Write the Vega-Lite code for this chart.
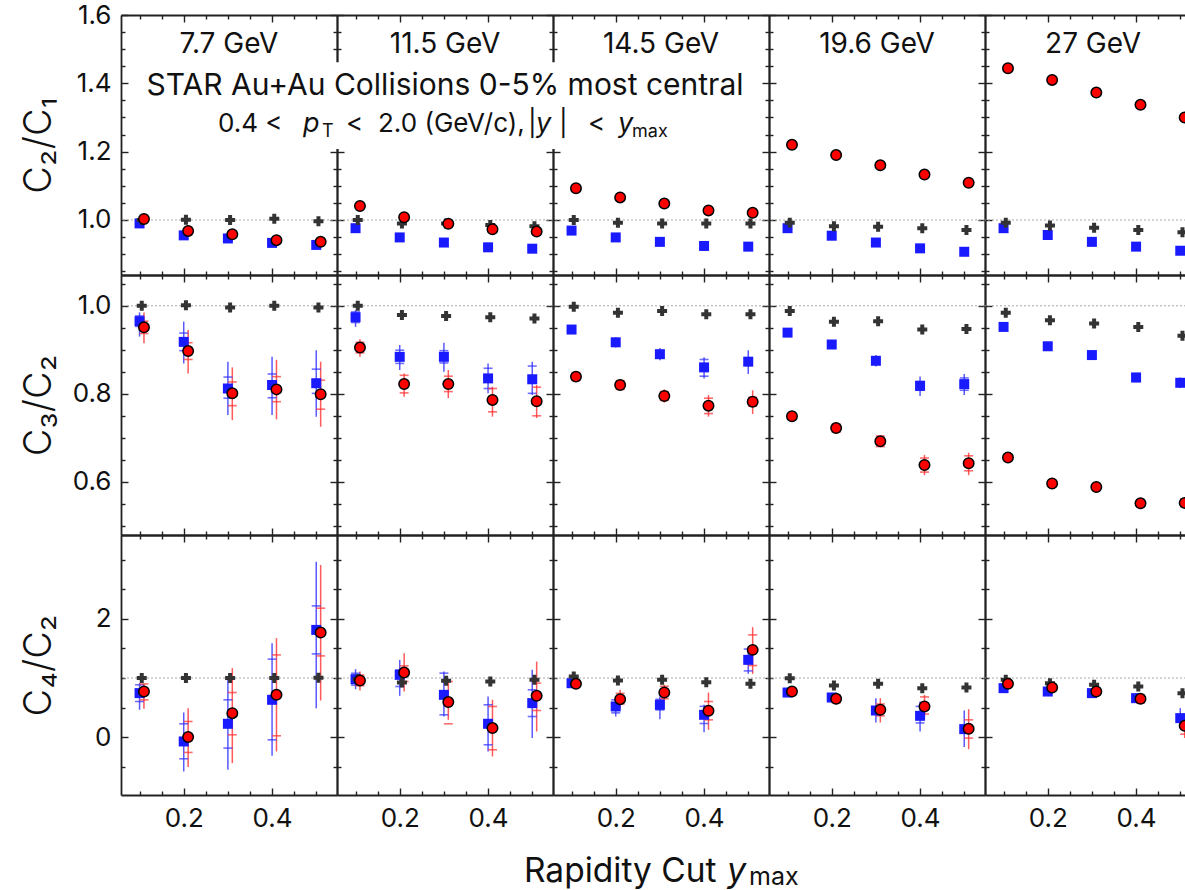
{
"$schema":"https://vega.github.io/schema/vega-lite/v6.json",
"background":"white",
"padding":{"left":20,"top":2,"right":0,"bottom":0},
"config":{"font":"Inter","view":{"stroke":null},
"axis":{"grid":false,"tickWidth":1.4,"tickColor":"#222222","domainColor":"#222222","domainWidth":1.8,"labelFont":"Inter","labelFontSize":26,"labelColor":"#111111","titleFont":"Inter","titleColor":"#111111"}},
"datasets":{"d":[
{"e":"7.7","q":"c21","s":"p","x":0.1,"y":0.990},{"e":"7.7","q":"c21","s":"p","x":0.2,"y":0.955},{"e":"7.7","q":"c21","s":"p","x":0.3,"y":0.946},{"e":"7.7","q":"c21","s":"p","x":0.4,"y":0.933},{"e":"7.7","q":"c21","s":"p","x":0.5,"y":0.927},
{"e":"7.7","q":"c21","s":"pbar","x":0.105,"y":1.000},{"e":"7.7","q":"c21","s":"pbar","x":0.205,"y":1.001},{"e":"7.7","q":"c21","s":"pbar","x":0.305,"y":1.000},{"e":"7.7","q":"c21","s":"pbar","x":0.405,"y":1.004},{"e":"7.7","q":"c21","s":"pbar","x":0.505,"y":0.996},
{"e":"7.7","q":"c21","s":"net","x":0.11,"y":1.003},{"e":"7.7","q":"c21","s":"net","x":0.21,"y":0.968},{"e":"7.7","q":"c21","s":"net","x":0.31,"y":0.958},{"e":"7.7","q":"c21","s":"net","x":0.41,"y":0.941},{"e":"7.7","q":"c21","s":"net","x":0.51,"y":0.936},
{"e":"11.5","q":"c21","s":"p","x":0.1,"y":0.976},{"e":"11.5","q":"c21","s":"p","x":0.2,"y":0.949},{"e":"11.5","q":"c21","s":"p","x":0.3,"y":0.934},{"e":"11.5","q":"c21","s":"p","x":0.4,"y":0.920},{"e":"11.5","q":"c21","s":"p","x":0.5,"y":0.916},
{"e":"11.5","q":"c21","s":"pbar","x":0.105,"y":1.000},{"e":"11.5","q":"c21","s":"pbar","x":0.205,"y":0.990},{"e":"11.5","q":"c21","s":"pbar","x":0.305,"y":0.990},{"e":"11.5","q":"c21","s":"pbar","x":0.405,"y":0.985},{"e":"11.5","q":"c21","s":"pbar","x":0.505,"y":0.982},
{"e":"11.5","q":"c21","s":"net","x":0.11,"y":1.041},{"e":"11.5","q":"c21","s":"net","x":0.21,"y":1.008},{"e":"11.5","q":"c21","s":"net","x":0.31,"y":0.989},{"e":"11.5","q":"c21","s":"net","x":0.41,"y":0.973},{"e":"11.5","q":"c21","s":"net","x":0.51,"y":0.966},
{"e":"14.5","q":"c21","s":"p","x":0.1,"y":0.969},{"e":"14.5","q":"c21","s":"p","x":0.2,"y":0.949},{"e":"14.5","q":"c21","s":"p","x":0.3,"y":0.936},{"e":"14.5","q":"c21","s":"p","x":0.4,"y":0.924},{"e":"14.5","q":"c21","s":"p","x":0.5,"y":0.922},
{"e":"14.5","q":"c21","s":"pbar","x":0.105,"y":1.000},{"e":"14.5","q":"c21","s":"pbar","x":0.205,"y":0.992},{"e":"14.5","q":"c21","s":"pbar","x":0.305,"y":0.990},{"e":"14.5","q":"c21","s":"pbar","x":0.405,"y":0.990},{"e":"14.5","q":"c21","s":"pbar","x":0.505,"y":0.990},
{"e":"14.5","q":"c21","s":"net","x":0.11,"y":1.093},{"e":"14.5","q":"c21","s":"net","x":0.21,"y":1.066},{"e":"14.5","q":"c21","s":"net","x":0.31,"y":1.048},{"e":"14.5","q":"c21","s":"net","x":0.41,"y":1.028},{"e":"14.5","q":"c21","s":"net","x":0.51,"y":1.021},
{"e":"19.6","q":"c21","s":"p","x":0.1,"y":0.976},{"e":"19.6","q":"c21","s":"p","x":0.2,"y":0.954},{"e":"19.6","q":"c21","s":"p","x":0.3,"y":0.934},{"e":"19.6","q":"c21","s":"p","x":0.4,"y":0.917},{"e":"19.6","q":"c21","s":"p","x":0.5,"y":0.907},
{"e":"19.6","q":"c21","s":"pbar","x":0.105,"y":0.992},{"e":"19.6","q":"c21","s":"pbar","x":0.205,"y":0.982},{"e":"19.6","q":"c21","s":"pbar","x":0.305,"y":0.980},{"e":"19.6","q":"c21","s":"pbar","x":0.405,"y":0.976},{"e":"19.6","q":"c21","s":"pbar","x":0.505,"y":0.971},
{"e":"19.6","q":"c21","s":"net","x":0.11,"y":1.220},{"e":"19.6","q":"c21","s":"net","x":0.21,"y":1.190},{"e":"19.6","q":"c21","s":"net","x":0.31,"y":1.160},{"e":"19.6","q":"c21","s":"net","x":0.41,"y":1.133},{"e":"19.6","q":"c21","s":"net","x":0.51,"y":1.109},
{"e":"27","q":"c21","s":"p","x":0.1,"y":0.976},{"e":"27","q":"c21","s":"p","x":0.2,"y":0.956},{"e":"27","q":"c21","s":"p","x":0.3,"y":0.936},{"e":"27","q":"c21","s":"p","x":0.4,"y":0.922},{"e":"27","q":"c21","s":"p","x":0.5,"y":0.910},
{"e":"27","q":"c21","s":"pbar","x":0.105,"y":0.992},{"e":"27","q":"c21","s":"pbar","x":0.205,"y":0.984},{"e":"27","q":"c21","s":"pbar","x":0.305,"y":0.977},{"e":"27","q":"c21","s":"pbar","x":0.405,"y":0.971},{"e":"27","q":"c21","s":"pbar","x":0.505,"y":0.964},
{"e":"27","q":"c21","s":"net","x":0.11,"y":1.444},{"e":"27","q":"c21","s":"net","x":0.21,"y":1.410},{"e":"27","q":"c21","s":"net","x":0.31,"y":1.373},{"e":"27","q":"c21","s":"net","x":0.41,"y":1.337},{"e":"27","q":"c21","s":"net","x":0.51,"y":1.300},

{"e":"7.7","q":"c32","s":"p","x":0.1,"y":0.965,"lo":0.930,"hi":0.985,"slo":0.953,"shi":0.977},{"e":"7.7","q":"c32","s":"p","x":0.2,"y":0.918,"lo":0.869,"hi":0.964,"slo":0.898,"shi":0.938},{"e":"7.7","q":"c32","s":"p","x":0.3,"y":0.812,"lo":0.752,"hi":0.873,"slo":0.790,"shi":0.838},{"e":"7.7","q":"c32","s":"p","x":0.4,"y":0.820,"lo":0.752,"hi":0.884,"slo":0.791,"shi":0.845},{"e":"7.7","q":"c32","s":"p","x":0.5,"y":0.824,"lo":0.748,"hi":0.899,"slo":0.801,"shi":0.856},
{"e":"7.7","q":"c32","s":"pbar","x":0.105,"y":1.000},{"e":"7.7","q":"c32","s":"pbar","x":0.205,"y":1.001},{"e":"7.7","q":"c32","s":"pbar","x":0.305,"y":0.996},{"e":"7.7","q":"c32","s":"pbar","x":0.405,"y":1.000},{"e":"7.7","q":"c32","s":"pbar","x":0.505,"y":0.996},
{"e":"7.7","q":"c32","s":"net","x":0.11,"y":0.951,"lo":0.915,"hi":0.985,"slo":0.937,"shi":0.965},{"e":"7.7","q":"c32","s":"net","x":0.21,"y":0.897,"lo":0.846,"hi":0.945,"slo":0.878,"shi":0.916},{"e":"7.7","q":"c32","s":"net","x":0.31,"y":0.801,"lo":0.740,"hi":0.860,"slo":0.773,"shi":0.827},{"e":"7.7","q":"c32","s":"net","x":0.41,"y":0.810,"lo":0.742,"hi":0.877,"slo":0.782,"shi":0.839},{"e":"7.7","q":"c32","s":"net","x":0.51,"y":0.799,"lo":0.725,"hi":0.873,"slo":0.765,"shi":0.831},
{"e":"11.5","q":"c32","s":"p","x":0.1,"y":0.974,"lo":0.952,"hi":0.990,"slo":0.962,"shi":0.986},{"e":"11.5","q":"c32","s":"p","x":0.2,"y":0.884,"lo":0.854,"hi":0.911,"slo":0.869,"shi":0.899},{"e":"11.5","q":"c32","s":"p","x":0.3,"y":0.884,"lo":0.850,"hi":0.916,"slo":0.870,"shi":0.898},{"e":"11.5","q":"c32","s":"p","x":0.4,"y":0.835,"lo":0.801,"hi":0.869,"slo":0.812,"shi":0.858},{"e":"11.5","q":"c32","s":"p","x":0.5,"y":0.833,"lo":0.797,"hi":0.873,"slo":0.801,"shi":0.863},
{"e":"11.5","q":"c32","s":"pbar","x":0.105,"y":1.000},{"e":"11.5","q":"c32","s":"pbar","x":0.205,"y":0.979},{"e":"11.5","q":"c32","s":"pbar","x":0.305,"y":0.977},{"e":"11.5","q":"c32","s":"pbar","x":0.405,"y":0.974},{"e":"11.5","q":"c32","s":"pbar","x":0.505,"y":0.971},
{"e":"11.5","q":"c32","s":"net","x":0.11,"y":0.905,"lo":0.884,"hi":0.924,"slo":0.893,"shi":0.917},{"e":"11.5","q":"c32","s":"net","x":0.21,"y":0.822,"lo":0.793,"hi":0.846,"slo":0.802,"shi":0.842},{"e":"11.5","q":"c32","s":"net","x":0.31,"y":0.822,"lo":0.790,"hi":0.854,"slo":0.805,"shi":0.840},{"e":"11.5","q":"c32","s":"net","x":0.41,"y":0.786,"lo":0.748,"hi":0.816,"slo":0.759,"shi":0.812},{"e":"11.5","q":"c32","s":"net","x":0.51,"y":0.783,"lo":0.745,"hi":0.820,"slo":0.750,"shi":0.815},
{"e":"14.5","q":"c32","s":"p","x":0.1,"y":0.946,"lo":0.938,"hi":0.954},{"e":"14.5","q":"c32","s":"p","x":0.2,"y":0.917,"lo":0.905,"hi":0.929},{"e":"14.5","q":"c32","s":"p","x":0.3,"y":0.890,"lo":0.876,"hi":0.904},{"e":"14.5","q":"c32","s":"p","x":0.4,"y":0.860,"lo":0.835,"hi":0.883,"slo":0.840,"shi":0.878},{"e":"14.5","q":"c32","s":"p","x":0.5,"y":0.873,"lo":0.845,"hi":0.899,"slo":0.865,"shi":0.881},
{"e":"14.5","q":"c32","s":"pbar","x":0.105,"y":0.998},{"e":"14.5","q":"c32","s":"pbar","x":0.205,"y":0.984},{"e":"14.5","q":"c32","s":"pbar","x":0.305,"y":0.988},{"e":"14.5","q":"c32","s":"pbar","x":0.405,"y":0.981},{"e":"14.5","q":"c32","s":"pbar","x":0.505,"y":0.981},
{"e":"14.5","q":"c32","s":"net","x":0.11,"y":0.839,"lo":0.831,"hi":0.847,"slo":0.830,"shi":0.848},{"e":"14.5","q":"c32","s":"net","x":0.21,"y":0.820,"lo":0.808,"hi":0.832,"slo":0.810,"shi":0.830},{"e":"14.5","q":"c32","s":"net","x":0.31,"y":0.795,"lo":0.780,"hi":0.810,"slo":0.785,"shi":0.805},{"e":"14.5","q":"c32","s":"net","x":0.41,"y":0.773,"lo":0.748,"hi":0.797,"slo":0.755,"shi":0.790},{"e":"14.5","q":"c32","s":"net","x":0.51,"y":0.782,"lo":0.754,"hi":0.808,"slo":0.772,"shi":0.792},
{"e":"19.6","q":"c32","s":"p","x":0.1,"y":0.939,"lo":0.932,"hi":0.946},{"e":"19.6","q":"c32","s":"p","x":0.2,"y":0.912,"lo":0.902,"hi":0.922},{"e":"19.6","q":"c32","s":"p","x":0.3,"y":0.875,"lo":0.862,"hi":0.888},{"e":"19.6","q":"c32","s":"p","x":0.4,"y":0.818,"lo":0.795,"hi":0.839,"slo":0.808,"shi":0.828},{"e":"19.6","q":"c32","s":"p","x":0.5,"y":0.822,"lo":0.797,"hi":0.845,"slo":0.808,"shi":0.836},
{"e":"19.6","q":"c32","s":"pbar","x":0.105,"y":0.988},{"e":"19.6","q":"c32","s":"pbar","x":0.205,"y":0.964},{"e":"19.6","q":"c32","s":"pbar","x":0.305,"y":0.965},{"e":"19.6","q":"c32","s":"pbar","x":0.405,"y":0.946},{"e":"19.6","q":"c32","s":"pbar","x":0.505,"y":0.947},
{"e":"19.6","q":"c32","s":"net","x":0.11,"y":0.749,"lo":0.742,"hi":0.756},{"e":"19.6","q":"c32","s":"net","x":0.21,"y":0.722,"lo":0.712,"hi":0.732,"slo":0.713,"shi":0.731},{"e":"19.6","q":"c32","s":"net","x":0.31,"y":0.692,"lo":0.680,"hi":0.704,"slo":0.680,"shi":0.704},{"e":"19.6","q":"c32","s":"net","x":0.41,"y":0.638,"lo":0.615,"hi":0.661,"slo":0.622,"shi":0.654},{"e":"19.6","q":"c32","s":"net","x":0.51,"y":0.642,"lo":0.615,"hi":0.666,"slo":0.625,"shi":0.659},
{"e":"27","q":"c32","s":"p","x":0.1,"y":0.952},{"e":"27","q":"c32","s":"p","x":0.2,"y":0.908},{"e":"27","q":"c32","s":"p","x":0.3,"y":0.888},{"e":"27","q":"c32","s":"p","x":0.4,"y":0.837,"lo":0.827,"hi":0.847,"slo":0.828,"shi":0.846},{"e":"27","q":"c32","s":"p","x":0.5,"y":0.825,"lo":0.813,"hi":0.837},
{"e":"27","q":"c32","s":"pbar","x":0.105,"y":0.984},{"e":"27","q":"c32","s":"pbar","x":0.205,"y":0.967},{"e":"27","q":"c32","s":"pbar","x":0.305,"y":0.960},{"e":"27","q":"c32","s":"pbar","x":0.405,"y":0.952},{"e":"27","q":"c32","s":"pbar","x":0.505,"y":0.932},
{"e":"27","q":"c32","s":"net","x":0.11,"y":0.655},{"e":"27","q":"c32","s":"net","x":0.21,"y":0.596},{"e":"27","q":"c32","s":"net","x":0.31,"y":0.588},{"e":"27","q":"c32","s":"net","x":0.41,"y":0.551,"lo":0.543,"hi":0.559,"slo":0.543,"shi":0.559},{"e":"27","q":"c32","s":"net","x":0.51,"y":0.552,"lo":0.543,"hi":0.561,"slo":0.543,"shi":0.561},

{"e":"7.7","q":"c42","s":"p","x":0.1,"y":0.744,"lo":0.462,"hi":0.913,"slo":0.602,"shi":0.884},{"e":"7.7","q":"c42","s":"p","x":0.2,"y":-0.074,"lo":-0.581,"hi":0.416,"slo":-0.367,"shi":0.225},{"e":"7.7","q":"c42","s":"p","x":0.3,"y":0.225,"lo":-0.553,"hi":1.025,"slo":-0.186,"shi":0.631},{"e":"7.7","q":"c42","s":"p","x":0.4,"y":0.631,"lo":-0.316,"hi":1.589,"slo":-0.046,"shi":1.319},{"e":"7.7","q":"c42","s":"p","x":0.5,"y":1.814,"lo":0.490,"hi":2.969,"slo":1.408,"shi":2.220},
{"e":"7.7","q":"c42","s":"pbar","x":0.105,"y":1.000},{"e":"7.7","q":"c42","s":"pbar","x":0.205,"y":1.000},{"e":"7.7","q":"c42","s":"pbar","x":0.305,"y":1.000},{"e":"7.7","q":"c42","s":"pbar","x":0.405,"y":1.000},{"e":"7.7","q":"c42","s":"pbar","x":0.505,"y":1.005},
{"e":"7.7","q":"c42","s":"net","x":0.11,"y":0.771,"lo":0.480,"hi":0.900,"slo":0.630,"shi":0.900},{"e":"7.7","q":"c42","s":"net","x":0.21,"y":0.000,"lo":-0.507,"hi":0.490,"slo":-0.260,"shi":0.264},{"e":"7.7","q":"c42","s":"net","x":0.31,"y":0.405,"lo":-0.440,"hi":1.167,"slo":0.039,"shi":0.754},{"e":"7.7","q":"c42","s":"net","x":0.41,"y":0.715,"lo":-0.243,"hi":1.674,"slo":0.022,"shi":1.391},{"e":"7.7","q":"c42","s":"net","x":0.51,"y":1.769,"lo":0.619,"hi":2.913,"slo":1.374,"shi":2.181},
{"e":"11.5","q":"c42","s":"p","x":0.1,"y":0.980,"lo":0.810,"hi":1.150,"slo":0.880,"shi":1.080},{"e":"11.5","q":"c42","s":"p","x":0.2,"y":1.053,"lo":0.698,"hi":1.307,"slo":0.856,"shi":1.138},{"e":"11.5","q":"c42","s":"p","x":0.3,"y":0.715,"lo":0.348,"hi":1.109,"slo":0.377,"shi":1.082},{"e":"11.5","q":"c42","s":"p","x":0.4,"y":0.225,"lo":-0.243,"hi":0.686,"slo":-0.130,"shi":0.546},{"e":"11.5","q":"c42","s":"p","x":0.5,"y":0.575,"lo":-0.017,"hi":1.138,"slo":0.348,"shi":0.800},
{"e":"11.5","q":"c42","s":"pbar","x":0.105,"y":0.980},{"e":"11.5","q":"c42","s":"pbar","x":0.205,"y":0.923},{"e":"11.5","q":"c42","s":"pbar","x":0.305,"y":0.952},{"e":"11.5","q":"c42","s":"pbar","x":0.405,"y":0.940},{"e":"11.5","q":"c42","s":"pbar","x":0.505,"y":0.969},
{"e":"11.5","q":"c42","s":"net","x":0.11,"y":0.957,"lo":0.788,"hi":1.109,"slo":0.870,"shi":1.050},{"e":"11.5","q":"c42","s":"net","x":0.21,"y":1.092,"lo":0.771,"hi":1.420,"slo":0.940,"shi":1.205},{"e":"11.5","q":"c42","s":"net","x":0.31,"y":0.592,"lo":0.292,"hi":0.969,"slo":0.225,"shi":0.940},{"e":"11.5","q":"c42","s":"net","x":0.41,"y":0.152,"lo":-0.328,"hi":0.631,"slo":-0.215,"shi":0.518},{"e":"11.5","q":"c42","s":"net","x":0.51,"y":0.698,"lo":0.095,"hi":1.278,"slo":0.450,"shi":0.913},
{"e":"14.5","q":"c42","s":"p","x":0.1,"y":0.912,"lo":0.830,"hi":0.990,"slo":0.860,"shi":0.960},{"e":"14.5","q":"c42","s":"p","x":0.2,"y":0.518,"lo":0.348,"hi":0.659,"slo":0.410,"shi":0.630},{"e":"14.5","q":"c42","s":"p","x":0.3,"y":0.546,"lo":0.304,"hi":0.686,"slo":0.460,"shi":0.640},{"e":"14.5","q":"c42","s":"p","x":0.4,"y":0.377,"lo":0.084,"hi":0.546,"slo":0.230,"shi":0.520},{"e":"14.5","q":"c42","s":"p","x":0.5,"y":1.307,"lo":1.070,"hi":1.532,"slo":1.120,"shi":1.490},
{"e":"14.5","q":"c42","s":"pbar","x":0.105,"y":1.025},{"e":"14.5","q":"c42","s":"pbar","x":0.205,"y":0.957},{"e":"14.5","q":"c42","s":"pbar","x":0.305,"y":0.969},{"e":"14.5","q":"c42","s":"pbar","x":0.405,"y":0.929},{"e":"14.5","q":"c42","s":"pbar","x":0.505,"y":0.901},
{"e":"14.5","q":"c42","s":"net","x":0.11,"y":0.901,"lo":0.830,"hi":0.970,"slo":0.860,"shi":0.940},{"e":"14.5","q":"c42","s":"net","x":0.21,"y":0.642,"lo":0.490,"hi":0.800,"slo":0.560,"shi":0.740},{"e":"14.5","q":"c42","s":"net","x":0.31,"y":0.754,"lo":0.602,"hi":0.884,"slo":0.650,"shi":0.860},{"e":"14.5","q":"c42","s":"net","x":0.41,"y":0.445,"lo":0.123,"hi":0.754,"slo":0.292,"shi":0.602},{"e":"14.5","q":"c42","s":"net","x":0.51,"y":1.476,"lo":1.070,"hi":1.860,"slo":1.211,"shi":1.729},
{"e":"19.6","q":"c42","s":"p","x":0.1,"y":0.754,"lo":0.700,"hi":0.810},{"e":"19.6","q":"c42","s":"p","x":0.2,"y":0.670,"lo":0.590,"hi":0.750},{"e":"19.6","q":"c42","s":"p","x":0.3,"y":0.450,"lo":0.247,"hi":0.659},{"e":"19.6","q":"c42","s":"p","x":0.4,"y":0.360,"lo":0.095,"hi":0.602,"slo":0.240,"shi":0.520},{"e":"19.6","q":"c42","s":"p","x":0.5,"y":0.135,"lo":-0.169,"hi":0.450},
{"e":"19.6","q":"c42","s":"pbar","x":0.105,"y":0.997},{"e":"19.6","q":"c42","s":"pbar","x":0.205,"y":0.873},{"e":"19.6","q":"c42","s":"pbar","x":0.305,"y":0.901},{"e":"19.6","q":"c42","s":"pbar","x":0.405,"y":0.828},{"e":"19.6","q":"c42","s":"pbar","x":0.505,"y":0.839},
{"e":"19.6","q":"c42","s":"net","x":0.11,"y":0.771,"lo":0.720,"hi":0.820,"slo":0.730,"shi":0.810},{"e":"19.6","q":"c42","s":"net","x":0.21,"y":0.647,"lo":0.550,"hi":0.740,"slo":0.580,"shi":0.710},{"e":"19.6","q":"c42","s":"net","x":0.31,"y":0.462,"lo":0.247,"hi":0.659,"slo":0.360,"shi":0.560},{"e":"19.6","q":"c42","s":"net","x":0.41,"y":0.518,"lo":0.348,"hi":0.715,"slo":0.390,"shi":0.680},{"e":"19.6","q":"c42","s":"net","x":0.51,"y":0.140,"lo":-0.203,"hi":0.473,"slo":-0.017,"shi":0.292},
{"e":"27","q":"c42","s":"p","x":0.1,"y":0.828,"lo":0.780,"hi":0.880},{"e":"27","q":"c42","s":"p","x":0.2,"y":0.771,"lo":0.720,"hi":0.820},{"e":"27","q":"c42","s":"p","x":0.3,"y":0.744,"lo":0.660,"hi":0.830},{"e":"27","q":"c42","s":"p","x":0.4,"y":0.659,"lo":0.580,"hi":0.740},{"e":"27","q":"c42","s":"p","x":0.5,"y":0.321,"lo":0.152,"hi":0.490},
{"e":"27","q":"c42","s":"pbar","x":0.105,"y":0.969},{"e":"27","q":"c42","s":"pbar","x":0.205,"y":0.912},{"e":"27","q":"c42","s":"pbar","x":0.305,"y":0.884},{"e":"27","q":"c42","s":"pbar","x":0.405,"y":0.856},{"e":"27","q":"c42","s":"pbar","x":0.505,"y":0.744},
{"e":"27","q":"c42","s":"net","x":0.11,"y":0.901,"lo":0.860,"hi":0.940,"slo":0.870,"shi":0.930},{"e":"27","q":"c42","s":"net","x":0.21,"y":0.839,"lo":0.790,"hi":0.890,"slo":0.800,"shi":0.880},{"e":"27","q":"c42","s":"net","x":0.31,"y":0.771,"lo":0.700,"hi":0.840,"slo":0.720,"shi":0.820},{"e":"27","q":"c42","s":"net","x":0.41,"y":0.647,"lo":0.560,"hi":0.740,"slo":0.580,"shi":0.710},{"e":"27","q":"c42","s":"net","x":0.51,"y":0.191,"lo":-0.017,"hi":0.348,"slo":0.050,"shi":0.320}
]},
"columns":5,"spacing":0,"bounds":"flush",
"concat":[
{"width":216,"height":260,"data":{"name":"d"},"transform":[{"filter":"datum.q=='c21' && datum.e=='7.7'"}],"resolve":{"axis":{"x":"independent","y":"independent"}},"layer":[
{"data":{"values":[{"q":"c21","e":"7.7"}]},"mark":{"type":"rule","color":"#a8a8a8","strokeDash":[2,2],"strokeWidth":1},"encoding":{"y":{"datum":1,"type":"quantitative","scale":{"domain":[0.839,1.6],"nice":false,"zero":false},"axis":null}}},
{"mark":{"type":"rule","strokeWidth":1.5,"opacity":0.8},"encoding":{"x":{"field":"x","type":"quantitative","scale":{"domain":[0.058,0.547],"nice":false,"zero":false},"axis":{"orient":"bottom","values":[0.2,0.4],"tickSize":-7,"domain":true,"labels":false,"title":null}},"y":{"field":"lo","type":"quantitative","scale":{"domain":[0.839,1.6],"nice":false,"zero":false},"axis":{"orient":"left","values":[1,1.2,1.4,1.6],"tickSize":-7,"domain":true,"labels":true,"format":".1f","labelPadding":17,"title":"C₂/C₁","titleFontSize":38,"titleFontWeight":300,"titlePadding":15,"minExtent":48,"maxExtent":48}},"y2":{"field":"hi"},"color":{"field":"s","type":"nominal","scale":{"domain":["p","pbar","net"],"range":["#3030ff","#444444","#ff3030"]},"legend":null}}},
{"transform":[{"fold":["slo","shi"],"as":["k","v"]}],"mark":{"type":"tick","orient":"horizontal","size":9,"thickness":1.6},"encoding":{"x":{"field":"x","type":"quantitative","scale":{"domain":[0.058,0.547],"nice":false,"zero":false},"axis":{"orient":"bottom","values":[0.1,0.15,0.25,0.3,0.35,0.45,0.5],"tickSize":-4,"domain":false,"labels":false,"title":null}},"y":{"field":"v","type":"quantitative","scale":{"domain":[0.839,1.6],"nice":false,"zero":false},"axis":{"orient":"left","values":[0.85,0.9,0.95,1.05,1.1,1.15,1.25,1.3,1.35,1.45,1.5,1.55],"tickSize":-4,"domain":false,"labels":false,"title":null}},"color":{"field":"s","type":"nominal","scale":{"domain":["p","pbar","net"],"range":["#3030ff","#444444","#ff3030"]},"legend":null}}},
{"transform":[{"filter":"datum.s=='p'"}],"mark":{"type":"point","shape":"square","filled":true,"color":"#1a1aff","size":100,"opacity":1},"encoding":{"x":{"field":"x","type":"quantitative","scale":{"domain":[0.058,0.547],"nice":false,"zero":false},"axis":{"orient":"top","values":[0.2,0.4],"tickSize":-7,"domain":true,"labels":false,"title":null}},"y":{"field":"y","type":"quantitative","scale":{"domain":[0.839,1.6],"nice":false,"zero":false},"axis":{"orient":"right","values":[1,1.2,1.4,1.6],"tickSize":-7,"domain":true,"labels":false,"title":null}}}},
{"transform":[{"filter":"datum.s=='pbar'"}],"mark":{"type":"point","shape":"cross","filled":true,"color":"#333333","size":100,"opacity":1},"encoding":{"x":{"field":"x","type":"quantitative","scale":{"domain":[0.058,0.547],"nice":false,"zero":false},"axis":{"orient":"top","values":[0.1,0.15,0.25,0.3,0.35,0.45,0.5],"tickSize":-4,"domain":false,"labels":false,"title":null}},"y":{"field":"y","type":"quantitative","scale":{"domain":[0.839,1.6],"nice":false,"zero":false},"axis":{"orient":"right","values":[0.85,0.9,0.95,1.05,1.1,1.15,1.25,1.3,1.35,1.45,1.5,1.55],"tickSize":-4,"domain":false,"labels":false,"title":null}}}},
{"transform":[{"filter":"datum.s=='net'"}],"mark":{"type":"point","shape":"circle","filled":true,"fill":"#ff0000","stroke":"#000000","strokeWidth":1.5,"size":110,"opacity":1},"encoding":{"x":{"field":"x","type":"quantitative","scale":{"domain":[0.058,0.547],"nice":false,"zero":false},"axis":null},"y":{"field":"y","type":"quantitative","scale":{"domain":[0.839,1.6],"nice":false,"zero":false},"axis":null}}},
{"data":{"values":[{"q":"c21","e":"7.7"}]},"mark":{"type":"text","text":"7.7 GeV","fontSize":28,"align":"center","baseline":"alphabetic","color":"#111111"},"encoding":{"x":{"datum":0.3025,"type":"quantitative","scale":{"domain":[0.058,0.547],"nice":false,"zero":false},"axis":null},"y":{"datum":1.489,"type":"quantitative","scale":{"domain":[0.839,1.6],"nice":false,"zero":false},"axis":null}}}
]},
{"width":216,"height":260,"data":{"name":"d"},"transform":[{"filter":"datum.q=='c21' && datum.e=='11.5'"}],"resolve":{"axis":{"x":"independent","y":"independent"}},"layer":[
{"data":{"values":[{"q":"c21","e":"11.5"}]},"mark":{"type":"rule","color":"#a8a8a8","strokeDash":[2,2],"strokeWidth":1},"encoding":{"y":{"datum":1,"type":"quantitative","scale":{"domain":[0.839,1.6],"nice":false,"zero":false},"axis":null}}},
{"mark":{"type":"rule","strokeWidth":1.5,"opacity":0.8},"encoding":{"x":{"field":"x","type":"quantitative","scale":{"domain":[0.058,0.547],"nice":false,"zero":false},"axis":{"orient":"bottom","values":[0.2,0.4],"tickSize":-7,"domain":true,"labels":false,"title":null}},"y":{"field":"lo","type":"quantitative","scale":{"domain":[0.839,1.6],"nice":false,"zero":false},"axis":{"orient":"left","values":[1,1.2,1.4,1.6],"tickSize":-7,"domain":true,"labels":false,"title":null}},"y2":{"field":"hi"},"color":{"field":"s","type":"nominal","scale":{"domain":["p","pbar","net"],"range":["#3030ff","#444444","#ff3030"]},"legend":null}}},
{"transform":[{"fold":["slo","shi"],"as":["k","v"]}],"mark":{"type":"tick","orient":"horizontal","size":9,"thickness":1.6},"encoding":{"x":{"field":"x","type":"quantitative","scale":{"domain":[0.058,0.547],"nice":false,"zero":false},"axis":{"orient":"bottom","values":[0.1,0.15,0.25,0.3,0.35,0.45,0.5],"tickSize":-4,"domain":false,"labels":false,"title":null}},"y":{"field":"v","type":"quantitative","scale":{"domain":[0.839,1.6],"nice":false,"zero":false},"axis":{"orient":"left","values":[0.85,0.9,0.95,1.05,1.1,1.15,1.25,1.3,1.35,1.45,1.5,1.55],"tickSize":-4,"domain":false,"labels":false,"title":null}},"color":{"field":"s","type":"nominal","scale":{"domain":["p","pbar","net"],"range":["#3030ff","#444444","#ff3030"]},"legend":null}}},
{"transform":[{"filter":"datum.s=='p'"}],"mark":{"type":"point","shape":"square","filled":true,"color":"#1a1aff","size":100,"opacity":1},"encoding":{"x":{"field":"x","type":"quantitative","scale":{"domain":[0.058,0.547],"nice":false,"zero":false},"axis":{"orient":"top","values":[0.2,0.4],"tickSize":-7,"domain":true,"labels":false,"title":null}},"y":{"field":"y","type":"quantitative","scale":{"domain":[0.839,1.6],"nice":false,"zero":false},"axis":{"orient":"right","values":[1,1.2,1.4,1.6],"tickSize":-7,"domain":true,"labels":false,"title":null}}}},
{"transform":[{"filter":"datum.s=='pbar'"}],"mark":{"type":"point","shape":"cross","filled":true,"color":"#333333","size":100,"opacity":1},"encoding":{"x":{"field":"x","type":"quantitative","scale":{"domain":[0.058,0.547],"nice":false,"zero":false},"axis":{"orient":"top","values":[0.1,0.15,0.25,0.3,0.35,0.45,0.5],"tickSize":-4,"domain":false,"labels":false,"title":null}},"y":{"field":"y","type":"quantitative","scale":{"domain":[0.839,1.6],"nice":false,"zero":false},"axis":{"orient":"right","values":[0.85,0.9,0.95,1.05,1.1,1.15,1.25,1.3,1.35,1.45,1.5,1.55],"tickSize":-4,"domain":false,"labels":false,"title":null}}}},
{"transform":[{"filter":"datum.s=='net'"}],"mark":{"type":"point","shape":"circle","filled":true,"fill":"#ff0000","stroke":"#000000","strokeWidth":1.5,"size":110,"opacity":1},"encoding":{"x":{"field":"x","type":"quantitative","scale":{"domain":[0.058,0.547],"nice":false,"zero":false},"axis":null},"y":{"field":"y","type":"quantitative","scale":{"domain":[0.839,1.6],"nice":false,"zero":false},"axis":null}}},
{"data":{"values":[{"q":"c21","e":"11.5"}]},"mark":{"type":"text","text":"11.5 GeV","fontSize":28,"align":"center","baseline":"alphabetic","color":"#111111"},"encoding":{"x":{"datum":0.3025,"type":"quantitative","scale":{"domain":[0.058,0.547],"nice":false,"zero":false},"axis":null},"y":{"datum":1.489,"type":"quantitative","scale":{"domain":[0.839,1.6],"nice":false,"zero":false},"axis":null}}}
]},
{"width":216,"height":260,"data":{"name":"d"},"transform":[{"filter":"datum.q=='c21' && datum.e=='14.5'"}],"resolve":{"axis":{"x":"independent","y":"independent"}},"layer":[
{"data":{"values":[{"q":"c21","e":"14.5"}]},"mark":{"type":"rule","color":"#a8a8a8","strokeDash":[2,2],"strokeWidth":1},"encoding":{"y":{"datum":1,"type":"quantitative","scale":{"domain":[0.839,1.6],"nice":false,"zero":false},"axis":null}}},
{"mark":{"type":"rule","strokeWidth":1.5,"opacity":0.8},"encoding":{"x":{"field":"x","type":"quantitative","scale":{"domain":[0.058,0.547],"nice":false,"zero":false},"axis":{"orient":"bottom","values":[0.2,0.4],"tickSize":-7,"domain":true,"labels":false,"title":null}},"y":{"field":"lo","type":"quantitative","scale":{"domain":[0.839,1.6],"nice":false,"zero":false},"axis":{"orient":"left","values":[1,1.2,1.4,1.6],"tickSize":-7,"domain":true,"labels":false,"title":null}},"y2":{"field":"hi"},"color":{"field":"s","type":"nominal","scale":{"domain":["p","pbar","net"],"range":["#3030ff","#444444","#ff3030"]},"legend":null}}},
{"transform":[{"fold":["slo","shi"],"as":["k","v"]}],"mark":{"type":"tick","orient":"horizontal","size":9,"thickness":1.6},"encoding":{"x":{"field":"x","type":"quantitative","scale":{"domain":[0.058,0.547],"nice":false,"zero":false},"axis":{"orient":"bottom","values":[0.1,0.15,0.25,0.3,0.35,0.45,0.5],"tickSize":-4,"domain":false,"labels":false,"title":null}},"y":{"field":"v","type":"quantitative","scale":{"domain":[0.839,1.6],"nice":false,"zero":false},"axis":{"orient":"left","values":[0.85,0.9,0.95,1.05,1.1,1.15,1.25,1.3,1.35,1.45,1.5,1.55],"tickSize":-4,"domain":false,"labels":false,"title":null}},"color":{"field":"s","type":"nominal","scale":{"domain":["p","pbar","net"],"range":["#3030ff","#444444","#ff3030"]},"legend":null}}},
{"transform":[{"filter":"datum.s=='p'"}],"mark":{"type":"point","shape":"square","filled":true,"color":"#1a1aff","size":100,"opacity":1},"encoding":{"x":{"field":"x","type":"quantitative","scale":{"domain":[0.058,0.547],"nice":false,"zero":false},"axis":{"orient":"top","values":[0.2,0.4],"tickSize":-7,"domain":true,"labels":false,"title":null}},"y":{"field":"y","type":"quantitative","scale":{"domain":[0.839,1.6],"nice":false,"zero":false},"axis":{"orient":"right","values":[1,1.2,1.4,1.6],"tickSize":-7,"domain":true,"labels":false,"title":null}}}},
{"transform":[{"filter":"datum.s=='pbar'"}],"mark":{"type":"point","shape":"cross","filled":true,"color":"#333333","size":100,"opacity":1},"encoding":{"x":{"field":"x","type":"quantitative","scale":{"domain":[0.058,0.547],"nice":false,"zero":false},"axis":{"orient":"top","values":[0.1,0.15,0.25,0.3,0.35,0.45,0.5],"tickSize":-4,"domain":false,"labels":false,"title":null}},"y":{"field":"y","type":"quantitative","scale":{"domain":[0.839,1.6],"nice":false,"zero":false},"axis":{"orient":"right","values":[0.85,0.9,0.95,1.05,1.1,1.15,1.25,1.3,1.35,1.45,1.5,1.55],"tickSize":-4,"domain":false,"labels":false,"title":null}}}},
{"transform":[{"filter":"datum.s=='net'"}],"mark":{"type":"point","shape":"circle","filled":true,"fill":"#ff0000","stroke":"#000000","strokeWidth":1.5,"size":110,"opacity":1},"encoding":{"x":{"field":"x","type":"quantitative","scale":{"domain":[0.058,0.547],"nice":false,"zero":false},"axis":null},"y":{"field":"y","type":"quantitative","scale":{"domain":[0.839,1.6],"nice":false,"zero":false},"axis":null}}},
{"data":{"values":[{"q":"c21","e":"14.5"}]},"mark":{"type":"text","text":"14.5 GeV","fontSize":28,"align":"center","baseline":"alphabetic","color":"#111111"},"encoding":{"x":{"datum":0.3025,"type":"quantitative","scale":{"domain":[0.058,0.547],"nice":false,"zero":false},"axis":null},"y":{"datum":1.489,"type":"quantitative","scale":{"domain":[0.839,1.6],"nice":false,"zero":false},"axis":null}}},
{"data":{"values":[{"q":"c21","e":"14.5"}]},"mark":{"type":"rect","fill":"#ffffff"},"encoding":{"x":{"datum":-0.882,"type":"quantitative","scale":{"domain":[0.058,0.547],"nice":false,"zero":false},"axis":null},"x2":{"datum":0.522},"y":{"datum":1.462,"type":"quantitative","scale":{"domain":[0.839,1.6],"nice":false,"zero":false},"axis":null},"y2":{"datum":1.208}}},
{"data":{"values":[{"q":"c21","e":"14.5"}]},"mark":{"type":"text","text":"STAR Au+Au Collisions 0-5% most central","fontSize":30,"align":"center","baseline":"alphabetic","color":"#111111"},"encoding":{"x":{"datum":-0.1865,"type":"quantitative","scale":{"domain":[0.058,0.547],"nice":false,"zero":false},"axis":null},"y":{"datum":1.366,"type":"quantitative","scale":{"domain":[0.839,1.6],"nice":false,"zero":false},"axis":null}}},
{"data":{"values":[{"q":"c21","e":"14.5"}]},"mark":{"type":"text","text":"0.4 <","fontSize":26,"align":"left","baseline":"alphabetic","color":"#111111"},"encoding":{"x":{"datum":-0.7004,"type":"quantitative","scale":{"domain":[0.058,0.547],"nice":false,"zero":false},"axis":null},"y":{"datum":1.258,"type":"quantitative","scale":{"domain":[0.839,1.6],"nice":false,"zero":false},"axis":null}}},
{"data":{"values":[{"q":"c21","e":"14.5"}]},"mark":{"type":"text","text":"p","fontSize":27,"fontStyle":"italic","align":"left","baseline":"alphabetic","color":"#111111"},"encoding":{"x":{"datum":-0.508,"type":"quantitative","scale":{"domain":[0.058,0.547],"nice":false,"zero":false},"axis":null},"y":{"datum":1.258,"type":"quantitative","scale":{"domain":[0.839,1.6],"nice":false,"zero":false},"axis":null}}},
{"data":{"values":[{"q":"c21","e":"14.5"}]},"mark":{"type":"text","text":"T","fontSize":18,"align":"left","baseline":"alphabetic","color":"#111111"},"encoding":{"x":{"datum":-0.465,"type":"quantitative","scale":{"domain":[0.058,0.547],"nice":false,"zero":false},"axis":null},"y":{"datum":1.243,"type":"quantitative","scale":{"domain":[0.839,1.6],"nice":false,"zero":false},"axis":null}}},
{"data":{"values":[{"q":"c21","e":"14.5"}]},"mark":{"type":"text","text":"<","fontSize":26,"align":"left","baseline":"alphabetic","color":"#111111"},"encoding":{"x":{"datum":-0.4106,"type":"quantitative","scale":{"domain":[0.058,0.547],"nice":false,"zero":false},"axis":null},"y":{"datum":1.258,"type":"quantitative","scale":{"domain":[0.839,1.6],"nice":false,"zero":false},"axis":null}}},
{"data":{"values":[{"q":"c21","e":"14.5"}]},"mark":{"type":"text","text":"2.0 (GeV/c),","fontSize":26,"align":"left","baseline":"alphabetic","color":"#111111"},"encoding":{"x":{"datum":-0.3382,"type":"quantitative","scale":{"domain":[0.058,0.547],"nice":false,"zero":false},"axis":null},"y":{"datum":1.258,"type":"quantitative","scale":{"domain":[0.839,1.6],"nice":false,"zero":false},"axis":null}}},
{"data":{"values":[{"q":"c21","e":"14.5"}]},"mark":{"type":"text","text":"|","fontSize":26,"align":"left","baseline":"alphabetic","color":"#111111"},"encoding":{"x":{"datum":0.0014,"type":"quantitative","scale":{"domain":[0.058,0.547],"nice":false,"zero":false},"axis":null},"y":{"datum":1.258,"type":"quantitative","scale":{"domain":[0.839,1.6],"nice":false,"zero":false},"axis":null}}},
{"data":{"values":[{"q":"c21","e":"14.5"}]},"mark":{"type":"text","text":"y","fontSize":27,"fontStyle":"italic","align":"left","baseline":"alphabetic","color":"#111111"},"encoding":{"x":{"datum":0.0195,"type":"quantitative","scale":{"domain":[0.058,0.547],"nice":false,"zero":false},"axis":null},"y":{"datum":1.258,"type":"quantitative","scale":{"domain":[0.839,1.6],"nice":false,"zero":false},"axis":null}}},
{"data":{"values":[{"q":"c21","e":"14.5"}]},"mark":{"type":"text","text":"|","fontSize":26,"align":"left","baseline":"alphabetic","color":"#111111"},"encoding":{"x":{"datum":0.0716,"type":"quantitative","scale":{"domain":[0.058,0.547],"nice":false,"zero":false},"axis":null},"y":{"datum":1.258,"type":"quantitative","scale":{"domain":[0.839,1.6],"nice":false,"zero":false},"axis":null}}},
{"data":{"values":[{"q":"c21","e":"14.5"}]},"mark":{"type":"text","text":"<","fontSize":26,"align":"left","baseline":"alphabetic","color":"#111111"},"encoding":{"x":{"datum":0.1372,"type":"quantitative","scale":{"domain":[0.058,0.547],"nice":false,"zero":false},"axis":null},"y":{"datum":1.258,"type":"quantitative","scale":{"domain":[0.839,1.6],"nice":false,"zero":false},"axis":null}}},
{"data":{"values":[{"q":"c21","e":"14.5"}]},"mark":{"type":"text","text":"y","fontSize":27,"fontStyle":"italic","align":"left","baseline":"alphabetic","color":"#111111"},"encoding":{"x":{"datum":0.2052,"type":"quantitative","scale":{"domain":[0.058,0.547],"nice":false,"zero":false},"axis":null},"y":{"datum":1.258,"type":"quantitative","scale":{"domain":[0.839,1.6],"nice":false,"zero":false},"axis":null}}},
{"data":{"values":[{"q":"c21","e":"14.5"}]},"mark":{"type":"text","text":"max","fontSize":18,"align":"left","baseline":"alphabetic","color":"#111111"},"encoding":{"x":{"datum":0.2369,"type":"quantitative","scale":{"domain":[0.058,0.547],"nice":false,"zero":false},"axis":null},"y":{"datum":1.243,"type":"quantitative","scale":{"domain":[0.839,1.6],"nice":false,"zero":false},"axis":null}}}
]},
{"width":216,"height":260,"data":{"name":"d"},"transform":[{"filter":"datum.q=='c21' && datum.e=='19.6'"}],"resolve":{"axis":{"x":"independent","y":"independent"}},"layer":[
{"data":{"values":[{"q":"c21","e":"19.6"}]},"mark":{"type":"rule","color":"#a8a8a8","strokeDash":[2,2],"strokeWidth":1},"encoding":{"y":{"datum":1,"type":"quantitative","scale":{"domain":[0.839,1.6],"nice":false,"zero":false},"axis":null}}},
{"mark":{"type":"rule","strokeWidth":1.5,"opacity":0.8},"encoding":{"x":{"field":"x","type":"quantitative","scale":{"domain":[0.058,0.547],"nice":false,"zero":false},"axis":{"orient":"bottom","values":[0.2,0.4],"tickSize":-7,"domain":true,"labels":false,"title":null}},"y":{"field":"lo","type":"quantitative","scale":{"domain":[0.839,1.6],"nice":false,"zero":false},"axis":{"orient":"left","values":[1,1.2,1.4,1.6],"tickSize":-7,"domain":true,"labels":false,"title":null}},"y2":{"field":"hi"},"color":{"field":"s","type":"nominal","scale":{"domain":["p","pbar","net"],"range":["#3030ff","#444444","#ff3030"]},"legend":null}}},
{"transform":[{"fold":["slo","shi"],"as":["k","v"]}],"mark":{"type":"tick","orient":"horizontal","size":9,"thickness":1.6},"encoding":{"x":{"field":"x","type":"quantitative","scale":{"domain":[0.058,0.547],"nice":false,"zero":false},"axis":{"orient":"bottom","values":[0.1,0.15,0.25,0.3,0.35,0.45,0.5],"tickSize":-4,"domain":false,"labels":false,"title":null}},"y":{"field":"v","type":"quantitative","scale":{"domain":[0.839,1.6],"nice":false,"zero":false},"axis":{"orient":"left","values":[0.85,0.9,0.95,1.05,1.1,1.15,1.25,1.3,1.35,1.45,1.5,1.55],"tickSize":-4,"domain":false,"labels":false,"title":null}},"color":{"field":"s","type":"nominal","scale":{"domain":["p","pbar","net"],"range":["#3030ff","#444444","#ff3030"]},"legend":null}}},
{"transform":[{"filter":"datum.s=='p'"}],"mark":{"type":"point","shape":"square","filled":true,"color":"#1a1aff","size":100,"opacity":1},"encoding":{"x":{"field":"x","type":"quantitative","scale":{"domain":[0.058,0.547],"nice":false,"zero":false},"axis":{"orient":"top","values":[0.2,0.4],"tickSize":-7,"domain":true,"labels":false,"title":null}},"y":{"field":"y","type":"quantitative","scale":{"domain":[0.839,1.6],"nice":false,"zero":false},"axis":{"orient":"right","values":[1,1.2,1.4,1.6],"tickSize":-7,"domain":true,"labels":false,"title":null}}}},
{"transform":[{"filter":"datum.s=='pbar'"}],"mark":{"type":"point","shape":"cross","filled":true,"color":"#333333","size":100,"opacity":1},"encoding":{"x":{"field":"x","type":"quantitative","scale":{"domain":[0.058,0.547],"nice":false,"zero":false},"axis":{"orient":"top","values":[0.1,0.15,0.25,0.3,0.35,0.45,0.5],"tickSize":-4,"domain":false,"labels":false,"title":null}},"y":{"field":"y","type":"quantitative","scale":{"domain":[0.839,1.6],"nice":false,"zero":false},"axis":{"orient":"right","values":[0.85,0.9,0.95,1.05,1.1,1.15,1.25,1.3,1.35,1.45,1.5,1.55],"tickSize":-4,"domain":false,"labels":false,"title":null}}}},
{"transform":[{"filter":"datum.s=='net'"}],"mark":{"type":"point","shape":"circle","filled":true,"fill":"#ff0000","stroke":"#000000","strokeWidth":1.5,"size":110,"opacity":1},"encoding":{"x":{"field":"x","type":"quantitative","scale":{"domain":[0.058,0.547],"nice":false,"zero":false},"axis":null},"y":{"field":"y","type":"quantitative","scale":{"domain":[0.839,1.6],"nice":false,"zero":false},"axis":null}}},
{"data":{"values":[{"q":"c21","e":"19.6"}]},"mark":{"type":"text","text":"19.6 GeV","fontSize":28,"align":"center","baseline":"alphabetic","color":"#111111"},"encoding":{"x":{"datum":0.3025,"type":"quantitative","scale":{"domain":[0.058,0.547],"nice":false,"zero":false},"axis":null},"y":{"datum":1.489,"type":"quantitative","scale":{"domain":[0.839,1.6],"nice":false,"zero":false},"axis":null}}}
]},
{"width":201,"height":260,"data":{"name":"d"},"transform":[{"filter":"datum.q=='c21' && datum.e=='27'"}],"resolve":{"axis":{"x":"independent","y":"independent"}},"layer":[
{"data":{"values":[{"q":"c21","e":"27"}]},"mark":{"type":"rule","color":"#a8a8a8","strokeDash":[2,2],"strokeWidth":1},"encoding":{"y":{"datum":1,"type":"quantitative","scale":{"domain":[0.839,1.6],"nice":false,"zero":false},"axis":null}}},
{"mark":{"type":"rule","strokeWidth":1.5,"opacity":0.8,"clip":true},"encoding":{"x":{"field":"x","type":"quantitative","scale":{"domain":[0.058,0.513],"nice":false,"zero":false},"axis":{"orient":"bottom","values":[0.2,0.4],"tickSize":-7,"domain":true,"labels":false,"title":null}},"y":{"field":"lo","type":"quantitative","scale":{"domain":[0.839,1.6],"nice":false,"zero":false},"axis":{"orient":"left","values":[1,1.2,1.4,1.6],"tickSize":-7,"domain":true,"labels":false,"title":null}},"y2":{"field":"hi"},"color":{"field":"s","type":"nominal","scale":{"domain":["p","pbar","net"],"range":["#3030ff","#444444","#ff3030"]},"legend":null}}},
{"transform":[{"fold":["slo","shi"],"as":["k","v"]}],"mark":{"type":"tick","orient":"horizontal","size":9,"thickness":1.6,"clip":true},"encoding":{"x":{"field":"x","type":"quantitative","scale":{"domain":[0.058,0.513],"nice":false,"zero":false},"axis":{"orient":"bottom","values":[0.1,0.15,0.25,0.3,0.35,0.45,0.5],"tickSize":-4,"domain":false,"labels":false,"title":null}},"y":{"field":"v","type":"quantitative","scale":{"domain":[0.839,1.6],"nice":false,"zero":false},"axis":{"orient":"left","values":[0.85,0.9,0.95,1.05,1.1,1.15,1.25,1.3,1.35,1.45,1.5,1.55],"tickSize":-4,"domain":false,"labels":false,"title":null}},"color":{"field":"s","type":"nominal","scale":{"domain":["p","pbar","net"],"range":["#3030ff","#444444","#ff3030"]},"legend":null}}},
{"transform":[{"filter":"datum.s=='p'"}],"mark":{"type":"point","shape":"square","filled":true,"color":"#1a1aff","size":100,"opacity":1,"clip":true},"encoding":{"x":{"field":"x","type":"quantitative","scale":{"domain":[0.058,0.513],"nice":false,"zero":false},"axis":{"orient":"top","values":[0.2,0.4],"tickSize":-7,"domain":true,"labels":false,"title":null}},"y":{"field":"y","type":"quantitative","scale":{"domain":[0.839,1.6],"nice":false,"zero":false},"axis":null}}},
{"transform":[{"filter":"datum.s=='pbar'"}],"mark":{"type":"point","shape":"cross","filled":true,"color":"#333333","size":100,"opacity":1,"clip":true},"encoding":{"x":{"field":"x","type":"quantitative","scale":{"domain":[0.058,0.513],"nice":false,"zero":false},"axis":{"orient":"top","values":[0.1,0.15,0.25,0.3,0.35,0.45,0.5],"tickSize":-4,"domain":false,"labels":false,"title":null}},"y":{"field":"y","type":"quantitative","scale":{"domain":[0.839,1.6],"nice":false,"zero":false},"axis":null}}},
{"transform":[{"filter":"datum.s=='net'"}],"mark":{"type":"point","shape":"circle","filled":true,"fill":"#ff0000","stroke":"#000000","strokeWidth":1.5,"size":110,"opacity":1,"clip":true},"encoding":{"x":{"field":"x","type":"quantitative","scale":{"domain":[0.058,0.513],"nice":false,"zero":false},"axis":null},"y":{"field":"y","type":"quantitative","scale":{"domain":[0.839,1.6],"nice":false,"zero":false},"axis":null}}},
{"data":{"values":[{"q":"c21","e":"27"}]},"mark":{"type":"text","text":"27 GeV","fontSize":28,"align":"center","baseline":"alphabetic","color":"#111111"},"encoding":{"x":{"datum":0.3025,"type":"quantitative","scale":{"domain":[0.058,0.513],"nice":false,"zero":false},"axis":null},"y":{"datum":1.489,"type":"quantitative","scale":{"domain":[0.839,1.6],"nice":false,"zero":false},"axis":null}}}
]},

{"width":216,"height":260,"data":{"name":"d"},"transform":[{"filter":"datum.q=='c32' && datum.e=='7.7'"}],"resolve":{"axis":{"x":"independent","y":"independent"}},"layer":[
{"data":{"values":[{"q":"c32","e":"7.7"}]},"mark":{"type":"rule","color":"#a8a8a8","strokeDash":[2,2],"strokeWidth":1},"encoding":{"y":{"datum":1,"type":"quantitative","scale":{"domain":[0.479,1.07],"nice":false,"zero":false},"axis":null}}},
{"mark":{"type":"rule","strokeWidth":1.5,"opacity":0.8},"encoding":{"x":{"field":"x","type":"quantitative","scale":{"domain":[0.058,0.547],"nice":false,"zero":false},"axis":{"orient":"bottom","values":[0.2,0.4],"tickSize":-7,"domain":true,"labels":false,"title":null}},"y":{"field":"lo","type":"quantitative","scale":{"domain":[0.479,1.07],"nice":false,"zero":false},"axis":{"orient":"left","values":[0.6,0.8,1],"tickSize":-7,"domain":true,"labels":true,"format":".1f","labelPadding":17,"title":"C₃/C₂","titleFontSize":38,"titleFontWeight":300,"titlePadding":15,"minExtent":48,"maxExtent":48}},"y2":{"field":"hi"},"color":{"field":"s","type":"nominal","scale":{"domain":["p","pbar","net"],"range":["#3030ff","#444444","#ff3030"]},"legend":null}}},
{"transform":[{"fold":["slo","shi"],"as":["k","v"]}],"mark":{"type":"tick","orient":"horizontal","size":9,"thickness":1.6},"encoding":{"x":{"field":"x","type":"quantitative","scale":{"domain":[0.058,0.547],"nice":false,"zero":false},"axis":{"orient":"bottom","values":[0.1,0.15,0.25,0.3,0.35,0.45,0.5],"tickSize":-4,"domain":false,"labels":false,"title":null}},"y":{"field":"v","type":"quantitative","scale":{"domain":[0.479,1.07],"nice":false,"zero":false},"axis":{"orient":"left","values":[0.5,0.55,0.65,0.7,0.75,0.85,0.9,0.95,1.05],"tickSize":-4,"domain":false,"labels":false,"title":null}},"color":{"field":"s","type":"nominal","scale":{"domain":["p","pbar","net"],"range":["#3030ff","#444444","#ff3030"]},"legend":null}}},
{"transform":[{"filter":"datum.s=='p'"}],"mark":{"type":"point","shape":"square","filled":true,"color":"#1a1aff","size":100,"opacity":1},"encoding":{"x":{"field":"x","type":"quantitative","scale":{"domain":[0.058,0.547],"nice":false,"zero":false},"axis":{"orient":"top","values":[0.2,0.4],"tickSize":-7,"domain":true,"labels":false,"title":null}},"y":{"field":"y","type":"quantitative","scale":{"domain":[0.479,1.07],"nice":false,"zero":false},"axis":{"orient":"right","values":[0.6,0.8,1],"tickSize":-7,"domain":true,"labels":false,"title":null}}}},
{"transform":[{"filter":"datum.s=='pbar'"}],"mark":{"type":"point","shape":"cross","filled":true,"color":"#333333","size":100,"opacity":1},"encoding":{"x":{"field":"x","type":"quantitative","scale":{"domain":[0.058,0.547],"nice":false,"zero":false},"axis":{"orient":"top","values":[0.1,0.15,0.25,0.3,0.35,0.45,0.5],"tickSize":-4,"domain":false,"labels":false,"title":null}},"y":{"field":"y","type":"quantitative","scale":{"domain":[0.479,1.07],"nice":false,"zero":false},"axis":{"orient":"right","values":[0.5,0.55,0.65,0.7,0.75,0.85,0.9,0.95,1.05],"tickSize":-4,"domain":false,"labels":false,"title":null}}}},
{"transform":[{"filter":"datum.s=='net'"}],"mark":{"type":"point","shape":"circle","filled":true,"fill":"#ff0000","stroke":"#000000","strokeWidth":1.5,"size":110,"opacity":1},"encoding":{"x":{"field":"x","type":"quantitative","scale":{"domain":[0.058,0.547],"nice":false,"zero":false},"axis":null},"y":{"field":"y","type":"quantitative","scale":{"domain":[0.479,1.07],"nice":false,"zero":false},"axis":null}}}
]},
{"width":216,"height":260,"data":{"name":"d"},"transform":[{"filter":"datum.q=='c32' && datum.e=='11.5'"}],"resolve":{"axis":{"x":"independent","y":"independent"}},"layer":[
{"data":{"values":[{"q":"c32","e":"11.5"}]},"mark":{"type":"rule","color":"#a8a8a8","strokeDash":[2,2],"strokeWidth":1},"encoding":{"y":{"datum":1,"type":"quantitative","scale":{"domain":[0.479,1.07],"nice":false,"zero":false},"axis":null}}},
{"mark":{"type":"rule","strokeWidth":1.5,"opacity":0.8},"encoding":{"x":{"field":"x","type":"quantitative","scale":{"domain":[0.058,0.547],"nice":false,"zero":false},"axis":{"orient":"bottom","values":[0.2,0.4],"tickSize":-7,"domain":true,"labels":false,"title":null}},"y":{"field":"lo","type":"quantitative","scale":{"domain":[0.479,1.07],"nice":false,"zero":false},"axis":{"orient":"left","values":[0.6,0.8,1],"tickSize":-7,"domain":true,"labels":false,"title":null}},"y2":{"field":"hi"},"color":{"field":"s","type":"nominal","scale":{"domain":["p","pbar","net"],"range":["#3030ff","#444444","#ff3030"]},"legend":null}}},
{"transform":[{"fold":["slo","shi"],"as":["k","v"]}],"mark":{"type":"tick","orient":"horizontal","size":9,"thickness":1.6},"encoding":{"x":{"field":"x","type":"quantitative","scale":{"domain":[0.058,0.547],"nice":false,"zero":false},"axis":{"orient":"bottom","values":[0.1,0.15,0.25,0.3,0.35,0.45,0.5],"tickSize":-4,"domain":false,"labels":false,"title":null}},"y":{"field":"v","type":"quantitative","scale":{"domain":[0.479,1.07],"nice":false,"zero":false},"axis":{"orient":"left","values":[0.5,0.55,0.65,0.7,0.75,0.85,0.9,0.95,1.05],"tickSize":-4,"domain":false,"labels":false,"title":null}},"color":{"field":"s","type":"nominal","scale":{"domain":["p","pbar","net"],"range":["#3030ff","#444444","#ff3030"]},"legend":null}}},
{"transform":[{"filter":"datum.s=='p'"}],"mark":{"type":"point","shape":"square","filled":true,"color":"#1a1aff","size":100,"opacity":1},"encoding":{"x":{"field":"x","type":"quantitative","scale":{"domain":[0.058,0.547],"nice":false,"zero":false},"axis":{"orient":"top","values":[0.2,0.4],"tickSize":-7,"domain":true,"labels":false,"title":null}},"y":{"field":"y","type":"quantitative","scale":{"domain":[0.479,1.07],"nice":false,"zero":false},"axis":{"orient":"right","values":[0.6,0.8,1],"tickSize":-7,"domain":true,"labels":false,"title":null}}}},
{"transform":[{"filter":"datum.s=='pbar'"}],"mark":{"type":"point","shape":"cross","filled":true,"color":"#333333","size":100,"opacity":1},"encoding":{"x":{"field":"x","type":"quantitative","scale":{"domain":[0.058,0.547],"nice":false,"zero":false},"axis":{"orient":"top","values":[0.1,0.15,0.25,0.3,0.35,0.45,0.5],"tickSize":-4,"domain":false,"labels":false,"title":null}},"y":{"field":"y","type":"quantitative","scale":{"domain":[0.479,1.07],"nice":false,"zero":false},"axis":{"orient":"right","values":[0.5,0.55,0.65,0.7,0.75,0.85,0.9,0.95,1.05],"tickSize":-4,"domain":false,"labels":false,"title":null}}}},
{"transform":[{"filter":"datum.s=='net'"}],"mark":{"type":"point","shape":"circle","filled":true,"fill":"#ff0000","stroke":"#000000","strokeWidth":1.5,"size":110,"opacity":1},"encoding":{"x":{"field":"x","type":"quantitative","scale":{"domain":[0.058,0.547],"nice":false,"zero":false},"axis":null},"y":{"field":"y","type":"quantitative","scale":{"domain":[0.479,1.07],"nice":false,"zero":false},"axis":null}}}
]},
{"width":216,"height":260,"data":{"name":"d"},"transform":[{"filter":"datum.q=='c32' && datum.e=='14.5'"}],"resolve":{"axis":{"x":"independent","y":"independent"}},"layer":[
{"data":{"values":[{"q":"c32","e":"14.5"}]},"mark":{"type":"rule","color":"#a8a8a8","strokeDash":[2,2],"strokeWidth":1},"encoding":{"y":{"datum":1,"type":"quantitative","scale":{"domain":[0.479,1.07],"nice":false,"zero":false},"axis":null}}},
{"mark":{"type":"rule","strokeWidth":1.5,"opacity":0.8},"encoding":{"x":{"field":"x","type":"quantitative","scale":{"domain":[0.058,0.547],"nice":false,"zero":false},"axis":{"orient":"bottom","values":[0.2,0.4],"tickSize":-7,"domain":true,"labels":false,"title":null}},"y":{"field":"lo","type":"quantitative","scale":{"domain":[0.479,1.07],"nice":false,"zero":false},"axis":{"orient":"left","values":[0.6,0.8,1],"tickSize":-7,"domain":true,"labels":false,"title":null}},"y2":{"field":"hi"},"color":{"field":"s","type":"nominal","scale":{"domain":["p","pbar","net"],"range":["#3030ff","#444444","#ff3030"]},"legend":null}}},
{"transform":[{"fold":["slo","shi"],"as":["k","v"]}],"mark":{"type":"tick","orient":"horizontal","size":9,"thickness":1.6},"encoding":{"x":{"field":"x","type":"quantitative","scale":{"domain":[0.058,0.547],"nice":false,"zero":false},"axis":{"orient":"bottom","values":[0.1,0.15,0.25,0.3,0.35,0.45,0.5],"tickSize":-4,"domain":false,"labels":false,"title":null}},"y":{"field":"v","type":"quantitative","scale":{"domain":[0.479,1.07],"nice":false,"zero":false},"axis":{"orient":"left","values":[0.5,0.55,0.65,0.7,0.75,0.85,0.9,0.95,1.05],"tickSize":-4,"domain":false,"labels":false,"title":null}},"color":{"field":"s","type":"nominal","scale":{"domain":["p","pbar","net"],"range":["#3030ff","#444444","#ff3030"]},"legend":null}}},
{"transform":[{"filter":"datum.s=='p'"}],"mark":{"type":"point","shape":"square","filled":true,"color":"#1a1aff","size":100,"opacity":1},"encoding":{"x":{"field":"x","type":"quantitative","scale":{"domain":[0.058,0.547],"nice":false,"zero":false},"axis":{"orient":"top","values":[0.2,0.4],"tickSize":-7,"domain":true,"labels":false,"title":null}},"y":{"field":"y","type":"quantitative","scale":{"domain":[0.479,1.07],"nice":false,"zero":false},"axis":{"orient":"right","values":[0.6,0.8,1],"tickSize":-7,"domain":true,"labels":false,"title":null}}}},
{"transform":[{"filter":"datum.s=='pbar'"}],"mark":{"type":"point","shape":"cross","filled":true,"color":"#333333","size":100,"opacity":1},"encoding":{"x":{"field":"x","type":"quantitative","scale":{"domain":[0.058,0.547],"nice":false,"zero":false},"axis":{"orient":"top","values":[0.1,0.15,0.25,0.3,0.35,0.45,0.5],"tickSize":-4,"domain":false,"labels":false,"title":null}},"y":{"field":"y","type":"quantitative","scale":{"domain":[0.479,1.07],"nice":false,"zero":false},"axis":{"orient":"right","values":[0.5,0.55,0.65,0.7,0.75,0.85,0.9,0.95,1.05],"tickSize":-4,"domain":false,"labels":false,"title":null}}}},
{"transform":[{"filter":"datum.s=='net'"}],"mark":{"type":"point","shape":"circle","filled":true,"fill":"#ff0000","stroke":"#000000","strokeWidth":1.5,"size":110,"opacity":1},"encoding":{"x":{"field":"x","type":"quantitative","scale":{"domain":[0.058,0.547],"nice":false,"zero":false},"axis":null},"y":{"field":"y","type":"quantitative","scale":{"domain":[0.479,1.07],"nice":false,"zero":false},"axis":null}}}
]},
{"width":216,"height":260,"data":{"name":"d"},"transform":[{"filter":"datum.q=='c32' && datum.e=='19.6'"}],"resolve":{"axis":{"x":"independent","y":"independent"}},"layer":[
{"data":{"values":[{"q":"c32","e":"19.6"}]},"mark":{"type":"rule","color":"#a8a8a8","strokeDash":[2,2],"strokeWidth":1},"encoding":{"y":{"datum":1,"type":"quantitative","scale":{"domain":[0.479,1.07],"nice":false,"zero":false},"axis":null}}},
{"mark":{"type":"rule","strokeWidth":1.5,"opacity":0.8},"encoding":{"x":{"field":"x","type":"quantitative","scale":{"domain":[0.058,0.547],"nice":false,"zero":false},"axis":{"orient":"bottom","values":[0.2,0.4],"tickSize":-7,"domain":true,"labels":false,"title":null}},"y":{"field":"lo","type":"quantitative","scale":{"domain":[0.479,1.07],"nice":false,"zero":false},"axis":{"orient":"left","values":[0.6,0.8,1],"tickSize":-7,"domain":true,"labels":false,"title":null}},"y2":{"field":"hi"},"color":{"field":"s","type":"nominal","scale":{"domain":["p","pbar","net"],"range":["#3030ff","#444444","#ff3030"]},"legend":null}}},
{"transform":[{"fold":["slo","shi"],"as":["k","v"]}],"mark":{"type":"tick","orient":"horizontal","size":9,"thickness":1.6},"encoding":{"x":{"field":"x","type":"quantitative","scale":{"domain":[0.058,0.547],"nice":false,"zero":false},"axis":{"orient":"bottom","values":[0.1,0.15,0.25,0.3,0.35,0.45,0.5],"tickSize":-4,"domain":false,"labels":false,"title":null}},"y":{"field":"v","type":"quantitative","scale":{"domain":[0.479,1.07],"nice":false,"zero":false},"axis":{"orient":"left","values":[0.5,0.55,0.65,0.7,0.75,0.85,0.9,0.95,1.05],"tickSize":-4,"domain":false,"labels":false,"title":null}},"color":{"field":"s","type":"nominal","scale":{"domain":["p","pbar","net"],"range":["#3030ff","#444444","#ff3030"]},"legend":null}}},
{"transform":[{"filter":"datum.s=='p'"}],"mark":{"type":"point","shape":"square","filled":true,"color":"#1a1aff","size":100,"opacity":1},"encoding":{"x":{"field":"x","type":"quantitative","scale":{"domain":[0.058,0.547],"nice":false,"zero":false},"axis":{"orient":"top","values":[0.2,0.4],"tickSize":-7,"domain":true,"labels":false,"title":null}},"y":{"field":"y","type":"quantitative","scale":{"domain":[0.479,1.07],"nice":false,"zero":false},"axis":{"orient":"right","values":[0.6,0.8,1],"tickSize":-7,"domain":true,"labels":false,"title":null}}}},
{"transform":[{"filter":"datum.s=='pbar'"}],"mark":{"type":"point","shape":"cross","filled":true,"color":"#333333","size":100,"opacity":1},"encoding":{"x":{"field":"x","type":"quantitative","scale":{"domain":[0.058,0.547],"nice":false,"zero":false},"axis":{"orient":"top","values":[0.1,0.15,0.25,0.3,0.35,0.45,0.5],"tickSize":-4,"domain":false,"labels":false,"title":null}},"y":{"field":"y","type":"quantitative","scale":{"domain":[0.479,1.07],"nice":false,"zero":false},"axis":{"orient":"right","values":[0.5,0.55,0.65,0.7,0.75,0.85,0.9,0.95,1.05],"tickSize":-4,"domain":false,"labels":false,"title":null}}}},
{"transform":[{"filter":"datum.s=='net'"}],"mark":{"type":"point","shape":"circle","filled":true,"fill":"#ff0000","stroke":"#000000","strokeWidth":1.5,"size":110,"opacity":1},"encoding":{"x":{"field":"x","type":"quantitative","scale":{"domain":[0.058,0.547],"nice":false,"zero":false},"axis":null},"y":{"field":"y","type":"quantitative","scale":{"domain":[0.479,1.07],"nice":false,"zero":false},"axis":null}}}
]},
{"width":201,"height":260,"data":{"name":"d"},"transform":[{"filter":"datum.q=='c32' && datum.e=='27'"}],"resolve":{"axis":{"x":"independent","y":"independent"}},"layer":[
{"data":{"values":[{"q":"c32","e":"27"}]},"mark":{"type":"rule","color":"#a8a8a8","strokeDash":[2,2],"strokeWidth":1},"encoding":{"y":{"datum":1,"type":"quantitative","scale":{"domain":[0.479,1.07],"nice":false,"zero":false},"axis":null}}},
{"mark":{"type":"rule","strokeWidth":1.5,"opacity":0.8,"clip":true},"encoding":{"x":{"field":"x","type":"quantitative","scale":{"domain":[0.058,0.513],"nice":false,"zero":false},"axis":{"orient":"bottom","values":[0.2,0.4],"tickSize":-7,"domain":true,"labels":false,"title":null}},"y":{"field":"lo","type":"quantitative","scale":{"domain":[0.479,1.07],"nice":false,"zero":false},"axis":{"orient":"left","values":[0.6,0.8,1],"tickSize":-7,"domain":true,"labels":false,"title":null}},"y2":{"field":"hi"},"color":{"field":"s","type":"nominal","scale":{"domain":["p","pbar","net"],"range":["#3030ff","#444444","#ff3030"]},"legend":null}}},
{"transform":[{"fold":["slo","shi"],"as":["k","v"]}],"mark":{"type":"tick","orient":"horizontal","size":9,"thickness":1.6,"clip":true},"encoding":{"x":{"field":"x","type":"quantitative","scale":{"domain":[0.058,0.513],"nice":false,"zero":false},"axis":{"orient":"bottom","values":[0.1,0.15,0.25,0.3,0.35,0.45,0.5],"tickSize":-4,"domain":false,"labels":false,"title":null}},"y":{"field":"v","type":"quantitative","scale":{"domain":[0.479,1.07],"nice":false,"zero":false},"axis":{"orient":"left","values":[0.5,0.55,0.65,0.7,0.75,0.85,0.9,0.95,1.05],"tickSize":-4,"domain":false,"labels":false,"title":null}},"color":{"field":"s","type":"nominal","scale":{"domain":["p","pbar","net"],"range":["#3030ff","#444444","#ff3030"]},"legend":null}}},
{"transform":[{"filter":"datum.s=='p'"}],"mark":{"type":"point","shape":"square","filled":true,"color":"#1a1aff","size":100,"opacity":1,"clip":true},"encoding":{"x":{"field":"x","type":"quantitative","scale":{"domain":[0.058,0.513],"nice":false,"zero":false},"axis":{"orient":"top","values":[0.2,0.4],"tickSize":-7,"domain":true,"labels":false,"title":null}},"y":{"field":"y","type":"quantitative","scale":{"domain":[0.479,1.07],"nice":false,"zero":false},"axis":null}}},
{"transform":[{"filter":"datum.s=='pbar'"}],"mark":{"type":"point","shape":"cross","filled":true,"color":"#333333","size":100,"opacity":1,"clip":true},"encoding":{"x":{"field":"x","type":"quantitative","scale":{"domain":[0.058,0.513],"nice":false,"zero":false},"axis":{"orient":"top","values":[0.1,0.15,0.25,0.3,0.35,0.45,0.5],"tickSize":-4,"domain":false,"labels":false,"title":null}},"y":{"field":"y","type":"quantitative","scale":{"domain":[0.479,1.07],"nice":false,"zero":false},"axis":null}}},
{"transform":[{"filter":"datum.s=='net'"}],"mark":{"type":"point","shape":"circle","filled":true,"fill":"#ff0000","stroke":"#000000","strokeWidth":1.5,"size":110,"opacity":1,"clip":true},"encoding":{"x":{"field":"x","type":"quantitative","scale":{"domain":[0.058,0.513],"nice":false,"zero":false},"axis":null},"y":{"field":"y","type":"quantitative","scale":{"domain":[0.479,1.07],"nice":false,"zero":false},"axis":null}}}
]},

{"width":216,"height":260,"data":{"name":"d"},"transform":[{"filter":"datum.q=='c42' && datum.e=='7.7'"}],"resolve":{"axis":{"x":"independent","y":"independent"}},"layer":[
{"data":{"values":[{"q":"c42","e":"7.7"}]},"mark":{"type":"rule","color":"#a8a8a8","strokeDash":[2,2],"strokeWidth":1},"encoding":{"y":{"datum":1,"type":"quantitative","scale":{"domain":[-0.98,3.42],"nice":false,"zero":false},"axis":null}}},
{"mark":{"type":"rule","strokeWidth":1.5,"opacity":0.8},"encoding":{"x":{"field":"x","type":"quantitative","scale":{"domain":[0.058,0.547],"nice":false,"zero":false},"axis":{"orient":"bottom","values":[0.2,0.4],"tickSize":-7,"domain":true,"labels":true,"format":".1f","labelPadding":17,"title":null}},"y":{"field":"lo","type":"quantitative","scale":{"domain":[-0.98,3.42],"nice":false,"zero":false},"axis":{"orient":"left","values":[0,2],"tickSize":-7,"domain":true,"labels":true,"format":"d","labelPadding":17,"title":"C₄/C₂","titleFontSize":38,"titleFontWeight":300,"titlePadding":15,"minExtent":48,"maxExtent":48}},"y2":{"field":"hi"},"color":{"field":"s","type":"nominal","scale":{"domain":["p","pbar","net"],"range":["#3030ff","#444444","#ff3030"]},"legend":null}}},
{"transform":[{"fold":["slo","shi"],"as":["k","v"]}],"mark":{"type":"tick","orient":"horizontal","size":9,"thickness":1.6},"encoding":{"x":{"field":"x","type":"quantitative","scale":{"domain":[0.058,0.547],"nice":false,"zero":false},"axis":{"orient":"bottom","values":[0.1,0.15,0.25,0.3,0.35,0.45,0.5],"tickSize":-4,"domain":false,"labels":false,"title":null}},"y":{"field":"v","type":"quantitative","scale":{"domain":[-0.98,3.42],"nice":false,"zero":false},"axis":{"orient":"left","values":[-0.5,0.5,1,1.5,2.5,3],"tickSize":-4,"domain":false,"labels":false,"title":null}},"color":{"field":"s","type":"nominal","scale":{"domain":["p","pbar","net"],"range":["#3030ff","#444444","#ff3030"]},"legend":null}}},
{"transform":[{"filter":"datum.s=='p'"}],"mark":{"type":"point","shape":"square","filled":true,"color":"#1a1aff","size":100,"opacity":1},"encoding":{"x":{"field":"x","type":"quantitative","scale":{"domain":[0.058,0.547],"nice":false,"zero":false},"axis":{"orient":"top","values":[0.2,0.4],"tickSize":-7,"domain":true,"labels":false,"title":null}},"y":{"field":"y","type":"quantitative","scale":{"domain":[-0.98,3.42],"nice":false,"zero":false},"axis":{"orient":"right","values":[0,2],"tickSize":-7,"domain":true,"labels":false,"title":null}}}},
{"transform":[{"filter":"datum.s=='pbar'"}],"mark":{"type":"point","shape":"cross","filled":true,"color":"#333333","size":100,"opacity":1},"encoding":{"x":{"field":"x","type":"quantitative","scale":{"domain":[0.058,0.547],"nice":false,"zero":false},"axis":{"orient":"top","values":[0.1,0.15,0.25,0.3,0.35,0.45,0.5],"tickSize":-4,"domain":false,"labels":false,"title":null}},"y":{"field":"y","type":"quantitative","scale":{"domain":[-0.98,3.42],"nice":false,"zero":false},"axis":{"orient":"right","values":[-0.5,0.5,1,1.5,2.5,3],"tickSize":-4,"domain":false,"labels":false,"title":null}}}},
{"transform":[{"filter":"datum.s=='net'"}],"mark":{"type":"point","shape":"circle","filled":true,"fill":"#ff0000","stroke":"#000000","strokeWidth":1.5,"size":110,"opacity":1},"encoding":{"x":{"field":"x","type":"quantitative","scale":{"domain":[0.058,0.547],"nice":false,"zero":false},"axis":null},"y":{"field":"y","type":"quantitative","scale":{"domain":[-0.98,3.42],"nice":false,"zero":false},"axis":null}}}
]},
{"width":216,"height":260,"data":{"name":"d"},"transform":[{"filter":"datum.q=='c42' && datum.e=='11.5'"}],"resolve":{"axis":{"x":"independent","y":"independent"}},"layer":[
{"data":{"values":[{"q":"c42","e":"11.5"}]},"mark":{"type":"rule","color":"#a8a8a8","strokeDash":[2,2],"strokeWidth":1},"encoding":{"y":{"datum":1,"type":"quantitative","scale":{"domain":[-0.98,3.42],"nice":false,"zero":false},"axis":null}}},
{"mark":{"type":"rule","strokeWidth":1.5,"opacity":0.8},"encoding":{"x":{"field":"x","type":"quantitative","scale":{"domain":[0.058,0.547],"nice":false,"zero":false},"axis":{"orient":"bottom","values":[0.2,0.4],"tickSize":-7,"domain":true,"labels":true,"format":".1f","labelPadding":17,"title":null}},"y":{"field":"lo","type":"quantitative","scale":{"domain":[-0.98,3.42],"nice":false,"zero":false},"axis":{"orient":"left","values":[0,2],"tickSize":-7,"domain":true,"labels":false,"title":null}},"y2":{"field":"hi"},"color":{"field":"s","type":"nominal","scale":{"domain":["p","pbar","net"],"range":["#3030ff","#444444","#ff3030"]},"legend":null}}},
{"transform":[{"fold":["slo","shi"],"as":["k","v"]}],"mark":{"type":"tick","orient":"horizontal","size":9,"thickness":1.6},"encoding":{"x":{"field":"x","type":"quantitative","scale":{"domain":[0.058,0.547],"nice":false,"zero":false},"axis":{"orient":"bottom","values":[0.1,0.15,0.25,0.3,0.35,0.45,0.5],"tickSize":-4,"domain":false,"labels":false,"title":null}},"y":{"field":"v","type":"quantitative","scale":{"domain":[-0.98,3.42],"nice":false,"zero":false},"axis":{"orient":"left","values":[-0.5,0.5,1,1.5,2.5,3],"tickSize":-4,"domain":false,"labels":false,"title":null}},"color":{"field":"s","type":"nominal","scale":{"domain":["p","pbar","net"],"range":["#3030ff","#444444","#ff3030"]},"legend":null}}},
{"transform":[{"filter":"datum.s=='p'"}],"mark":{"type":"point","shape":"square","filled":true,"color":"#1a1aff","size":100,"opacity":1},"encoding":{"x":{"field":"x","type":"quantitative","scale":{"domain":[0.058,0.547],"nice":false,"zero":false},"axis":{"orient":"top","values":[0.2,0.4],"tickSize":-7,"domain":true,"labels":false,"title":null}},"y":{"field":"y","type":"quantitative","scale":{"domain":[-0.98,3.42],"nice":false,"zero":false},"axis":{"orient":"right","values":[0,2],"tickSize":-7,"domain":true,"labels":false,"title":null}}}},
{"transform":[{"filter":"datum.s=='pbar'"}],"mark":{"type":"point","shape":"cross","filled":true,"color":"#333333","size":100,"opacity":1},"encoding":{"x":{"field":"x","type":"quantitative","scale":{"domain":[0.058,0.547],"nice":false,"zero":false},"axis":{"orient":"top","values":[0.1,0.15,0.25,0.3,0.35,0.45,0.5],"tickSize":-4,"domain":false,"labels":false,"title":null}},"y":{"field":"y","type":"quantitative","scale":{"domain":[-0.98,3.42],"nice":false,"zero":false},"axis":{"orient":"right","values":[-0.5,0.5,1,1.5,2.5,3],"tickSize":-4,"domain":false,"labels":false,"title":null}}}},
{"transform":[{"filter":"datum.s=='net'"}],"mark":{"type":"point","shape":"circle","filled":true,"fill":"#ff0000","stroke":"#000000","strokeWidth":1.5,"size":110,"opacity":1},"encoding":{"x":{"field":"x","type":"quantitative","scale":{"domain":[0.058,0.547],"nice":false,"zero":false},"axis":null},"y":{"field":"y","type":"quantitative","scale":{"domain":[-0.98,3.42],"nice":false,"zero":false},"axis":null}}}
]},
{"width":216,"height":260,"data":{"name":"d"},"transform":[{"filter":"datum.q=='c42' && datum.e=='14.5'"}],"resolve":{"axis":{"x":"independent","y":"independent"}},"layer":[
{"data":{"values":[{"q":"c42","e":"14.5"}]},"mark":{"type":"rule","color":"#a8a8a8","strokeDash":[2,2],"strokeWidth":1},"encoding":{"y":{"datum":1,"type":"quantitative","scale":{"domain":[-0.98,3.42],"nice":false,"zero":false},"axis":null}}},
{"mark":{"type":"rule","strokeWidth":1.5,"opacity":0.8},"encoding":{"x":{"field":"x","type":"quantitative","scale":{"domain":[0.058,0.547],"nice":false,"zero":false},"axis":{"orient":"bottom","values":[0.2,0.4],"tickSize":-7,"domain":true,"labels":true,"format":".1f","labelPadding":17,"title":null}},"y":{"field":"lo","type":"quantitative","scale":{"domain":[-0.98,3.42],"nice":false,"zero":false},"axis":{"orient":"left","values":[0,2],"tickSize":-7,"domain":true,"labels":false,"title":null}},"y2":{"field":"hi"},"color":{"field":"s","type":"nominal","scale":{"domain":["p","pbar","net"],"range":["#3030ff","#444444","#ff3030"]},"legend":null}}},
{"transform":[{"fold":["slo","shi"],"as":["k","v"]}],"mark":{"type":"tick","orient":"horizontal","size":9,"thickness":1.6},"encoding":{"x":{"field":"x","type":"quantitative","scale":{"domain":[0.058,0.547],"nice":false,"zero":false},"axis":{"orient":"bottom","values":[0.1,0.15,0.25,0.3,0.35,0.45,0.5],"tickSize":-4,"domain":false,"labels":false,"title":null}},"y":{"field":"v","type":"quantitative","scale":{"domain":[-0.98,3.42],"nice":false,"zero":false},"axis":{"orient":"left","values":[-0.5,0.5,1,1.5,2.5,3],"tickSize":-4,"domain":false,"labels":false,"title":null}},"color":{"field":"s","type":"nominal","scale":{"domain":["p","pbar","net"],"range":["#3030ff","#444444","#ff3030"]},"legend":null}}},
{"transform":[{"filter":"datum.s=='p'"}],"mark":{"type":"point","shape":"square","filled":true,"color":"#1a1aff","size":100,"opacity":1},"encoding":{"x":{"field":"x","type":"quantitative","scale":{"domain":[0.058,0.547],"nice":false,"zero":false},"axis":{"orient":"top","values":[0.2,0.4],"tickSize":-7,"domain":true,"labels":false,"title":null}},"y":{"field":"y","type":"quantitative","scale":{"domain":[-0.98,3.42],"nice":false,"zero":false},"axis":{"orient":"right","values":[0,2],"tickSize":-7,"domain":true,"labels":false,"title":null}}}},
{"transform":[{"filter":"datum.s=='pbar'"}],"mark":{"type":"point","shape":"cross","filled":true,"color":"#333333","size":100,"opacity":1},"encoding":{"x":{"field":"x","type":"quantitative","scale":{"domain":[0.058,0.547],"nice":false,"zero":false},"axis":{"orient":"top","values":[0.1,0.15,0.25,0.3,0.35,0.45,0.5],"tickSize":-4,"domain":false,"labels":false,"title":null}},"y":{"field":"y","type":"quantitative","scale":{"domain":[-0.98,3.42],"nice":false,"zero":false},"axis":{"orient":"right","values":[-0.5,0.5,1,1.5,2.5,3],"tickSize":-4,"domain":false,"labels":false,"title":null}}}},
{"transform":[{"filter":"datum.s=='net'"}],"mark":{"type":"point","shape":"circle","filled":true,"fill":"#ff0000","stroke":"#000000","strokeWidth":1.5,"size":110,"opacity":1},"encoding":{"x":{"field":"x","type":"quantitative","scale":{"domain":[0.058,0.547],"nice":false,"zero":false},"axis":null},"y":{"field":"y","type":"quantitative","scale":{"domain":[-0.98,3.42],"nice":false,"zero":false},"axis":null}}},
{"data":{"values":[{"q":"c42","e":"14.5"}]},"mark":{"type":"text","text":"Rapidity Cut","fontSize":33.5,"align":"left","baseline":"alphabetic","color":"#111111"},"encoding":{"x":{"datum":-0.0077,"type":"quantitative","scale":{"domain":[0.058,0.547],"nice":false,"zero":false},"axis":null},"y":{"datum":-2.446,"type":"quantitative","scale":{"domain":[-0.98,3.42],"nice":false,"zero":false},"axis":null}}},
{"data":{"values":[{"q":"c42","e":"14.5"}]},"mark":{"type":"text","text":"y","fontSize":34,"fontStyle":"italic","align":"left","baseline":"alphabetic","color":"#111111"},"encoding":{"x":{"datum":0.452,"type":"quantitative","scale":{"domain":[0.058,0.547],"nice":false,"zero":false},"axis":null},"y":{"datum":-2.446,"type":"quantitative","scale":{"domain":[-0.98,3.42],"nice":false,"zero":false},"axis":null}}},
{"data":{"values":[{"q":"c42","e":"14.5"}]},"mark":{"type":"text","text":"max","fontSize":25,"align":"left","baseline":"alphabetic","color":"#111111"},"encoding":{"x":{"datum":0.502,"type":"quantitative","scale":{"domain":[0.058,0.547],"nice":false,"zero":false},"axis":null},"y":{"datum":-2.497,"type":"quantitative","scale":{"domain":[-0.98,3.42],"nice":false,"zero":false},"axis":null}}}
]},
{"width":216,"height":260,"data":{"name":"d"},"transform":[{"filter":"datum.q=='c42' && datum.e=='19.6'"}],"resolve":{"axis":{"x":"independent","y":"independent"}},"layer":[
{"data":{"values":[{"q":"c42","e":"19.6"}]},"mark":{"type":"rule","color":"#a8a8a8","strokeDash":[2,2],"strokeWidth":1},"encoding":{"y":{"datum":1,"type":"quantitative","scale":{"domain":[-0.98,3.42],"nice":false,"zero":false},"axis":null}}},
{"mark":{"type":"rule","strokeWidth":1.5,"opacity":0.8},"encoding":{"x":{"field":"x","type":"quantitative","scale":{"domain":[0.058,0.547],"nice":false,"zero":false},"axis":{"orient":"bottom","values":[0.2,0.4],"tickSize":-7,"domain":true,"labels":true,"format":".1f","labelPadding":17,"title":null}},"y":{"field":"lo","type":"quantitative","scale":{"domain":[-0.98,3.42],"nice":false,"zero":false},"axis":{"orient":"left","values":[0,2],"tickSize":-7,"domain":true,"labels":false,"title":null}},"y2":{"field":"hi"},"color":{"field":"s","type":"nominal","scale":{"domain":["p","pbar","net"],"range":["#3030ff","#444444","#ff3030"]},"legend":null}}},
{"transform":[{"fold":["slo","shi"],"as":["k","v"]}],"mark":{"type":"tick","orient":"horizontal","size":9,"thickness":1.6},"encoding":{"x":{"field":"x","type":"quantitative","scale":{"domain":[0.058,0.547],"nice":false,"zero":false},"axis":{"orient":"bottom","values":[0.1,0.15,0.25,0.3,0.35,0.45,0.5],"tickSize":-4,"domain":false,"labels":false,"title":null}},"y":{"field":"v","type":"quantitative","scale":{"domain":[-0.98,3.42],"nice":false,"zero":false},"axis":{"orient":"left","values":[-0.5,0.5,1,1.5,2.5,3],"tickSize":-4,"domain":false,"labels":false,"title":null}},"color":{"field":"s","type":"nominal","scale":{"domain":["p","pbar","net"],"range":["#3030ff","#444444","#ff3030"]},"legend":null}}},
{"transform":[{"filter":"datum.s=='p'"}],"mark":{"type":"point","shape":"square","filled":true,"color":"#1a1aff","size":100,"opacity":1},"encoding":{"x":{"field":"x","type":"quantitative","scale":{"domain":[0.058,0.547],"nice":false,"zero":false},"axis":{"orient":"top","values":[0.2,0.4],"tickSize":-7,"domain":true,"labels":false,"title":null}},"y":{"field":"y","type":"quantitative","scale":{"domain":[-0.98,3.42],"nice":false,"zero":false},"axis":{"orient":"right","values":[0,2],"tickSize":-7,"domain":true,"labels":false,"title":null}}}},
{"transform":[{"filter":"datum.s=='pbar'"}],"mark":{"type":"point","shape":"cross","filled":true,"color":"#333333","size":100,"opacity":1},"encoding":{"x":{"field":"x","type":"quantitative","scale":{"domain":[0.058,0.547],"nice":false,"zero":false},"axis":{"orient":"top","values":[0.1,0.15,0.25,0.3,0.35,0.45,0.5],"tickSize":-4,"domain":false,"labels":false,"title":null}},"y":{"field":"y","type":"quantitative","scale":{"domain":[-0.98,3.42],"nice":false,"zero":false},"axis":{"orient":"right","values":[-0.5,0.5,1,1.5,2.5,3],"tickSize":-4,"domain":false,"labels":false,"title":null}}}},
{"transform":[{"filter":"datum.s=='net'"}],"mark":{"type":"point","shape":"circle","filled":true,"fill":"#ff0000","stroke":"#000000","strokeWidth":1.5,"size":110,"opacity":1},"encoding":{"x":{"field":"x","type":"quantitative","scale":{"domain":[0.058,0.547],"nice":false,"zero":false},"axis":null},"y":{"field":"y","type":"quantitative","scale":{"domain":[-0.98,3.42],"nice":false,"zero":false},"axis":null}}}
]},
{"width":201,"height":260,"data":{"name":"d"},"transform":[{"filter":"datum.q=='c42' && datum.e=='27'"}],"resolve":{"axis":{"x":"independent","y":"independent"}},"layer":[
{"data":{"values":[{"q":"c42","e":"27"}]},"mark":{"type":"rule","color":"#a8a8a8","strokeDash":[2,2],"strokeWidth":1},"encoding":{"y":{"datum":1,"type":"quantitative","scale":{"domain":[-0.98,3.42],"nice":false,"zero":false},"axis":null}}},
{"mark":{"type":"rule","strokeWidth":1.5,"opacity":0.8,"clip":true},"encoding":{"x":{"field":"x","type":"quantitative","scale":{"domain":[0.058,0.513],"nice":false,"zero":false},"axis":{"orient":"bottom","values":[0.2,0.4],"tickSize":-7,"domain":true,"labels":true,"format":".1f","labelPadding":17,"title":null}},"y":{"field":"lo","type":"quantitative","scale":{"domain":[-0.98,3.42],"nice":false,"zero":false},"axis":{"orient":"left","values":[0,2],"tickSize":-7,"domain":true,"labels":false,"title":null}},"y2":{"field":"hi"},"color":{"field":"s","type":"nominal","scale":{"domain":["p","pbar","net"],"range":["#3030ff","#444444","#ff3030"]},"legend":null}}},
{"transform":[{"fold":["slo","shi"],"as":["k","v"]}],"mark":{"type":"tick","orient":"horizontal","size":9,"thickness":1.6,"clip":true},"encoding":{"x":{"field":"x","type":"quantitative","scale":{"domain":[0.058,0.513],"nice":false,"zero":false},"axis":{"orient":"bottom","values":[0.1,0.15,0.25,0.3,0.35,0.45,0.5],"tickSize":-4,"domain":false,"labels":false,"title":null}},"y":{"field":"v","type":"quantitative","scale":{"domain":[-0.98,3.42],"nice":false,"zero":false},"axis":{"orient":"left","values":[-0.5,0.5,1,1.5,2.5,3],"tickSize":-4,"domain":false,"labels":false,"title":null}},"color":{"field":"s","type":"nominal","scale":{"domain":["p","pbar","net"],"range":["#3030ff","#444444","#ff3030"]},"legend":null}}},
{"transform":[{"filter":"datum.s=='p'"}],"mark":{"type":"point","shape":"square","filled":true,"color":"#1a1aff","size":100,"opacity":1,"clip":true},"encoding":{"x":{"field":"x","type":"quantitative","scale":{"domain":[0.058,0.513],"nice":false,"zero":false},"axis":{"orient":"top","values":[0.2,0.4],"tickSize":-7,"domain":true,"labels":false,"title":null}},"y":{"field":"y","type":"quantitative","scale":{"domain":[-0.98,3.42],"nice":false,"zero":false},"axis":null}}},
{"transform":[{"filter":"datum.s=='pbar'"}],"mark":{"type":"point","shape":"cross","filled":true,"color":"#333333","size":100,"opacity":1,"clip":true},"encoding":{"x":{"field":"x","type":"quantitative","scale":{"domain":[0.058,0.513],"nice":false,"zero":false},"axis":{"orient":"top","values":[0.1,0.15,0.25,0.3,0.35,0.45,0.5],"tickSize":-4,"domain":false,"labels":false,"title":null}},"y":{"field":"y","type":"quantitative","scale":{"domain":[-0.98,3.42],"nice":false,"zero":false},"axis":null}}},
{"transform":[{"filter":"datum.s=='net'"}],"mark":{"type":"point","shape":"circle","filled":true,"fill":"#ff0000","stroke":"#000000","strokeWidth":1.5,"size":110,"opacity":1,"clip":true},"encoding":{"x":{"field":"x","type":"quantitative","scale":{"domain":[0.058,0.513],"nice":false,"zero":false},"axis":null},"y":{"field":"y","type":"quantitative","scale":{"domain":[-0.98,3.42],"nice":false,"zero":false},"axis":null}}}
]}
]
}
